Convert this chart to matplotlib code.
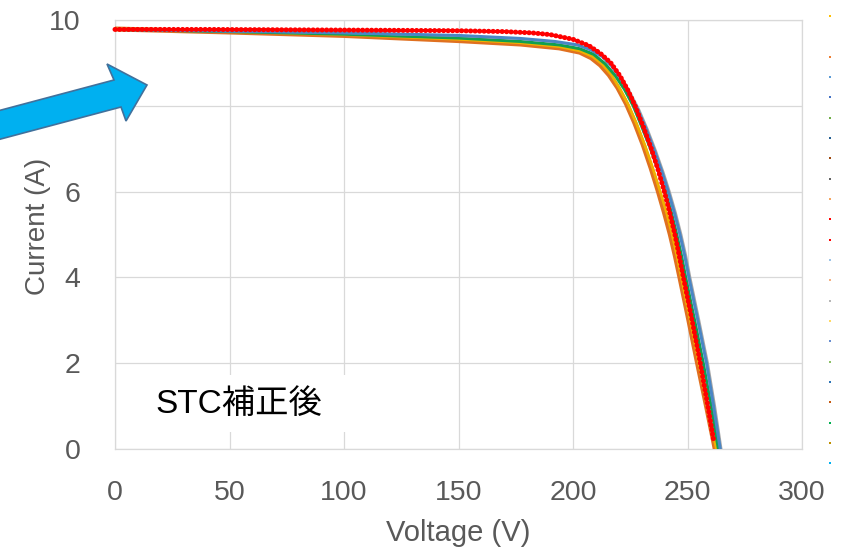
import matplotlib
matplotlib.use('Agg')
import matplotlib.pyplot as plt
from matplotlib.lines import Line2D
from matplotlib.patches import Polygon, Rectangle

# I-V curves after STC correction (voltage in V, current in A)
red_v = [0, 40, 80, 120, 150, 170, 182, 190, 200, 207, 212, 216.5, 220.5, 224, 227.1, 230.8,
         234.2, 237.2, 239.9, 242.3, 244.5, 246.4, 248.2, 252, 255.6, 258.9, 261.6]
red_i = [9.78, 9.78, 9.77, 9.76, 9.75, 9.73, 9.70, 9.66, 9.55, 9.40, 9.22, 9.0, 8.7, 8.36, 8.0, 7.5,
         7.0, 6.5, 6.0, 5.5, 5.0, 4.5, 4.0, 3.0, 2.0, 1.0, 0.15]

orange_v = [0, 50, 100, 150, 177, 194, 203, 208, 212, 215.8, 219.6, 223.3, 227, 230.6, 234.1,
            237.3, 240, 242.5, 244.7, 246.7, 250.6, 254.4, 258.3, 262.1]
orange_i = [9.79, 9.72, 9.64, 9.52, 9.44, 9.35, 9.25, 9.12, 8.95, 8.72, 8.42, 8.05, 7.6, 7.1, 6.55,
            6.0, 5.5, 5.0, 4.5, 4.0, 3.0, 2.0, 1.0, 0.0]

gold_v = [0, 50, 100, 150, 177, 194, 203, 208.5, 212.8, 216.8, 220.4, 224.2, 228, 231.6, 235,
          238.1, 240.9, 243.3, 245.4, 247.3, 251.2, 255, 258.7, 262.6]
gold_i = [9.79, 9.73, 9.66, 9.55, 9.47, 9.38, 9.28, 9.15, 8.97, 8.72, 8.40, 8.02, 7.55, 7.05, 6.52,
          6.0, 5.5, 5.0, 4.5, 4.0, 3.0, 2.0, 1.0, 0.0]

green_v = [0, 50, 100, 150, 177, 194, 203, 209, 214, 218.5, 222.5, 226.3, 230, 233.7, 237.2,
           240.3, 243, 245.3, 247.4, 249.2, 253.1, 256.9, 260.3, 263.5]
green_i = [9.78, 9.73, 9.67, 9.58, 9.50, 9.42, 9.33, 9.20, 8.98, 8.70, 8.38, 8.0, 7.52, 7.02, 6.5,
           6.0, 5.5, 5.0, 4.5, 4.0, 3.0, 2.0, 1.0, 0.0]

gray_v = [0, 50, 100, 150, 177, 192, 202, 208.5, 213.5, 217.6, 221.4, 225.1, 228.8, 232.6, 236.2,
          239.5, 242.2, 244.9, 247.3, 249.4, 251.2, 255.1, 258.9, 262, 264.8]
gray_i = [9.78, 9.74, 9.70, 9.63, 9.56, 9.49, 9.41, 9.30, 9.14, 8.92, 8.64, 8.30, 7.92, 7.45, 6.95,
          6.45, 6.0, 5.5, 5.0, 4.5, 4.0, 3.0, 2.0, 1.0, 0.0]

blue_v = [0, 50, 100, 150, 177, 192, 202, 208, 213, 217, 220.8, 224.5, 228.2, 232, 235.6,
          238.9, 241.6, 244.3, 246.7, 248.8, 250.6, 254.5, 258.3, 261.4, 264.3]
blue_i = [9.78, 9.74, 9.70, 9.64, 9.57, 9.50, 9.42, 9.30, 9.14, 8.92, 8.64, 8.30, 7.92, 7.45, 6.95,
          6.45, 6.0, 5.5, 5.0, 4.5, 4.0, 3.0, 2.0, 1.0, 0.0]

# series colours shown in the legend column (None = blank row)
legend_colors = ['#FFC000', None, '#ED7D31', '#5B9BD5', '#4472C4', '#70AD47', '#255E91',
                 '#9E480E', '#636363', '#F4A460', '#FF0000', '#FF0000', '#9DC3E6', '#F4B183',
                 '#B7B7B7', '#FFD966', '#698ED0', '#8CC168', '#2E75B6', '#C55A11', '#00B050',
                 '#BF9000', '#00B0F0']

x_ticks = [0, 50, 100, 150, 200, 250, 300]
y_ticks = [0, 2, 4, 6, 8, 10]

W, H = 846, 550
fig = plt.figure(figsize=(W / 100, H / 100), dpi=100)
ax = fig.add_axes([115 / W, 1 - 449 / H, 687 / W, 429 / H])

grid_c = '#D9D9D9'
text_c = '#595959'

ax.plot(orange_v, orange_i, color='#E07020', lw=3.6, zorder=3)
ax.plot(gold_v, gold_i, color='#F0B000', lw=2.0, zorder=3)
ax.plot(green_v, green_i, color='#10A050', lw=2.2, zorder=3)
ax.plot(gray_v, gray_i, color='#A5A5A5', lw=1.6, zorder=3)
ax.plot(blue_v, blue_i, color='#4A86C5', lw=2.2, zorder=3)
ax.plot(red_v, red_i, color='#FF0000', lw=3.6, linestyle=(0, (0.05, 0.85)),
        dash_capstyle='round', zorder=4, clip_on=False)

ax.set_xlim(0, 300)
ax.set_ylim(0, 10)
ax.set_xticks(x_ticks)
ax.set_yticks(y_ticks)
ax.grid(True, color=grid_c, lw=0.9)
ax.set_axisbelow(True)
for s in ax.spines.values():
    s.set_color(grid_c)
    s.set_linewidth(0.9)
ax.tick_params(length=0, labelsize=20.5, labelcolor=text_c)
ax.tick_params(axis='x', pad=22)
ax.tick_params(axis='y', pad=25)
for lbl in ax.get_xticklabels() + ax.get_yticklabels():
    lbl.set_fontfamily('Liberation Sans')

ax.set_xlabel('Voltage (V)', fontsize=21, color=text_c, fontfamily='Liberation Sans')
ax.set_ylabel('Current (A)', fontsize=20, color=text_c, fontfamily='Liberation Sans')
ax.xaxis.set_label_coords(0.5, -0.163)
ax.yaxis.set_label_coords(-0.093, 0.52)

# white label box with the correction note
ax.add_patch(Rectangle((4.4, 0.4), 99, 1.33, facecolor='white', edgecolor='none', zorder=2))
ax.text(17.5, 1.03, 'STC補正後', fontsize=24, color='black', va='center', ha='left',
        family=['Liberation Sans', 'Noto Sans CJK JP'], zorder=5)

# legend column on the right
handles = []
for c in legend_colors:
    if c is None:
        handles.append(Line2D([], [], linestyle='none', marker='s', markersize=1.6, color='none'))
    else:
        handles.append(Line2D([], [], linestyle='none', marker='s', markersize=1.8,
                              markeredgewidth=0, color=c))
fig.legend(handles, [''] * len(handles), loc='upper left',
           bbox_to_anchor=(826.7 / W, 1 - 11.35 / H), frameon=False, fontsize=8,
           handlelength=0.6, handleheight=1.2, labelspacing=0.80, borderpad=0,
           borderaxespad=0, handletextpad=0)


# blue call-out arrow pointing at the curve
def px(x, y):
    return (x / W, 1 - y / H)


arrow_pts = [(-10, 113), (114, 80), (107, 64), (147, 85), (126, 121), (121, 107), (-3, 140)]
fig.add_artist(Polygon([px(x, y) for x, y in arrow_pts], closed=True, transform=fig.transFigure,
                       facecolor='#00B0F0', edgecolor='#41719C', lw=1.2, zorder=10))

plt.savefig('out.png', dpi=100)
